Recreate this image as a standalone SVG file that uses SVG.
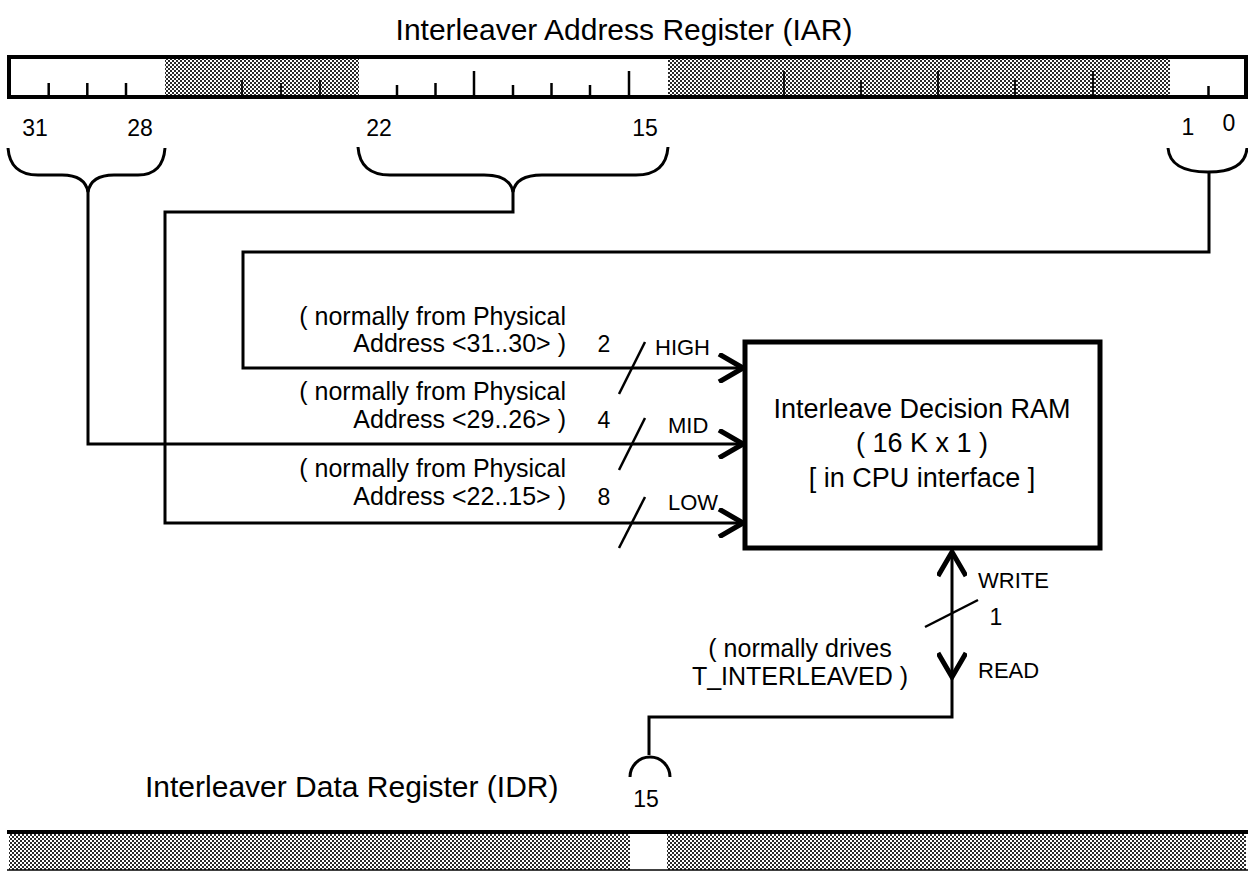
<svg xmlns="http://www.w3.org/2000/svg" width="1248" height="873" viewBox="0 0 1248 873">
<style>
text{font-family:"Liberation Sans",Arial,sans-serif;fill:#000}
.title{font-size:30px}
.bit{font-size:23px;text-anchor:middle}
.note{font-size:25px;text-anchor:end}
.mid{text-anchor:middle}
.sig{font-size:22px}
.num{font-size:23px;text-anchor:middle}
.box{font-size:27px;text-anchor:middle}
.ln{fill:none;stroke:#000;stroke-width:3}
.tick{stroke:#000;stroke-width:2.5}
.dtick{stroke:#111;stroke-width:2}
.slash{stroke:#000;stroke-width:2.5}
</style>
<defs>
<pattern id="dither" width="4" height="4" patternUnits="userSpaceOnUse">
<rect width="4" height="4" fill="#fff"/>
<rect width="2" height="2" fill="#2a2a2a"/>
<rect x="2" y="2" width="2" height="2" fill="#2a2a2a"/>
</pattern>
<marker id="chev" viewBox="0 0 30 30" refX="27" refY="15" markerWidth="30" markerHeight="30" markerUnits="userSpaceOnUse" orient="auto-start-reverse">
<path d="M3,1 L27,15 L3,29" fill="none" stroke="#000" stroke-width="5"/>
</marker>
</defs>

<g id="iar-title"><text class="title" x="624" y="40" text-anchor="middle">Interleaver Address Register (IAR)</text></g>

<g id="iar">
<rect x="9" y="57" width="1237" height="40" fill="#fff"/>
<rect x="165" y="57" width="194" height="40" fill="url(#dither)"/>
<rect x="668" y="57" width="502" height="40" fill="url(#dither)"/>
<g class="tick">
<line x1="48.7" y1="83" x2="48.7" y2="96"/>
<line x1="87.3" y1="83" x2="87.3" y2="96"/>
<line x1="126" y1="83" x2="126" y2="96"/>
<line x1="397" y1="85" x2="397" y2="96"/>
<line x1="435.5" y1="83" x2="435.5" y2="96"/>
<line x1="474" y1="71" x2="474" y2="96"/>
<line x1="513" y1="85" x2="513" y2="96"/>
<line x1="551.5" y1="83" x2="551.5" y2="96"/>
<line x1="590" y1="85" x2="590" y2="96"/>
<line x1="629" y1="71" x2="629" y2="96"/>
<line x1="1208.5" y1="86" x2="1208.5" y2="96"/>
</g>
<g class="dtick">
<line x1="242" y1="80" x2="242" y2="96"/>
<line x1="281" y1="83" x2="281" y2="96"/>
<line x1="320" y1="80" x2="320" y2="96"/>
<line x1="784" y1="71" x2="784" y2="96"/>
<line x1="861" y1="80" x2="861" y2="96"/>
<line x1="938" y1="71" x2="938" y2="96"/>
<line x1="1015" y1="80" x2="1015" y2="96"/>
<line x1="1093" y1="71" x2="1093" y2="96"/>
</g>
<rect x="9" y="57" width="1237" height="40" fill="none" stroke="#000" stroke-width="4"/>
<text class="bit" x="35" y="136">31</text>
<text class="bit" x="140" y="136">28</text>
<text class="bit" x="379" y="136">22</text>
<text class="bit" x="645" y="136">15</text>
<text class="bit" x="1188" y="135">1</text>
<text class="bit" x="1229" y="131">0</text>
<path class="ln" d="M8,148 Q10,175 38,175 L62,175 Q85,175 88,192 Q91,175 114,175 L138,175 Q163,175 165,148"/>
<path class="ln" d="M358,147 Q360,175 390,175 L484,175 Q510,175 513,192 Q516,175 542,175 L636,175 Q666,175 668,147"/>
<path class="ln" d="M1168,148 Q1170,172 1208,172 Q1245,172 1247,148"/>
</g>

<g id="ram">
<rect x="745" y="342" width="355" height="206" fill="#fff" stroke="#000" stroke-width="5"/>
<text class="box" x="922" y="418">Interleave Decision RAM</text>
<text class="box" x="922" y="452">( 16 K x 1 )</text>
<text class="box" x="922" y="487">[ in CPU interface ]</text>
</g>

<g id="connectors">
<path class="ln" d="M1209,172 V252 H243 V368 H743" marker-end="url(#chev)"/>
<path class="ln" d="M88,190 V444 H743" marker-end="url(#chev)"/>
<path class="ln" d="M513,190 V212 H165 V523 H743" marker-end="url(#chev)"/>
<path class="ln" d="M952,552 V677" marker-start="url(#chev)" marker-end="url(#chev)"/>
<path class="ln" d="M952,677 V717 H649 V755"/>
<path class="ln" d="M630,777 A20,20 0 0 1 670,777"/>
<line class="slash" x1="645" y1="342" x2="619" y2="394"/>
<line class="slash" x1="645" y1="418" x2="619" y2="470"/>
<line class="slash" x1="645" y1="497" x2="619" y2="548"/>
<line class="slash" x1="925" y1="627" x2="978" y2="600"/>
</g>

<g id="labels">
<text class="note" x="566" y="325">( normally from Physical</text>
<text class="note" x="566" y="352">Address &lt;31..30&gt; )</text>
<text class="note" x="566" y="400">( normally from Physical</text>
<text class="note" x="566" y="428">Address &lt;29..26&gt; )</text>
<text class="note" x="566" y="477">( normally from Physical</text>
<text class="note" x="566" y="505">Address &lt;22..15&gt; )</text>
<text class="num" x="604" y="352">2</text>
<text class="num" x="604" y="428">4</text>
<text class="num" x="604" y="505">8</text>
<text class="sig" x="655" y="355">HIGH</text>
<text class="sig" x="668" y="433">MID</text>
<text class="sig" x="668" y="510">LOW</text>
<text class="sig" x="978" y="588">WRITE</text>
<text class="num" x="996" y="625">1</text>
<text class="sig" x="978" y="678">READ</text>
<text class="note mid" x="800" y="657">( normally drives</text>
<text class="note mid" x="800" y="685">T_INTERLEAVED )</text>
</g>

<g id="idr-title"><text class="title" x="145" y="797">Interleaver Data Register (IDR)</text>
<text class="bit" x="646" y="807">15</text></g>

<g id="idr">
<rect x="9" y="832" width="1237" height="38" fill="url(#dither)"/>
<rect x="630" y="833" width="37" height="37" fill="#fff"/>
<line x1="7" y1="832" x2="1248" y2="832" stroke="#000" stroke-width="4"/>
<line x1="7" y1="870" x2="1248" y2="870" stroke="#000" stroke-width="1.5"/>
</g>
</svg>
